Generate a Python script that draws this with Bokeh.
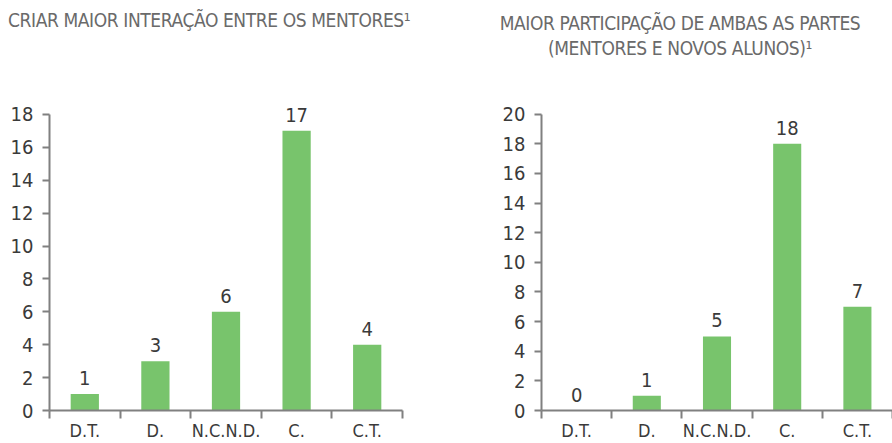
from bokeh.plotting import figure
from bokeh.models import Range1d, FixedTicker, ColumnDataSource, Div
from bokeh.layouts import row, column
from bokeh.embed import file_html
from bokeh.resources import INLINE
from bokeh.core.properties import value

categories = ["D.T.", "D.", "N.C.N.D.", "C.", "C.T."]
values_left = [1, 3, 6, 17, 4]
values_right = [0, 1, 5, 18, 7]
yticks_left = [0, 2, 4, 6, 8, 10, 12, 14, 16, 18]
yticks_right = [0, 2, 4, 6, 8, 10, 12, 14, 16, 18, 20]
title_left = "CRIAR MAIOR INTERAÇÃO ENTRE OS MENTORES¹"
title_right = ["MAIOR PARTICIPAÇÃO DE AMBAS AS PARTES", "(MENTORES E NOVOS ALUNOS)¹"]

FONT = "'DejaVu Sans Condensed', 'Roboto', sans-serif"
GREEN = "#78c46c"
AXIS = "#808080"
TXT = "#3a3a3a"
TITLE_C = "#6a6a6a"
TOPH = 64
BOT = 28
TOPB = 17


def make(vals, yticks, yend, width, bl, br):
    n = len(categories)
    p = figure(width=width, height=443 - TOPH, output_backend="svg", toolbar_location=None,
               x_range=Range1d(0, n), y_range=Range1d(0, yend),
               min_border_left=bl, min_border_right=br, min_border_top=TOPB, min_border_bottom=BOT)
    p.outline_line_color = None
    p.grid.visible = False
    p.background_fill_color = None
    p.border_fill_color = None

    xs = [i + 0.5 for i in range(n)]
    src = ColumnDataSource(dict(x=xs, top=vals, lab=[str(v) for v in vals]))
    p.vbar(x="x", top="top", width=0.4, bottom=0, source=src, fill_color=GREEN, line_color=None)
    p.text(x="x", y="top", text="lab", source=src, text_align="center", text_baseline="bottom",
           y_offset=-9, text_font=value(FONT), text_font_size="20px", text_color=TXT)

    xa = p.xaxis[0]
    xa.ticker = FixedTicker(ticks=xs, minor_ticks=list(range(n + 1)))
    xa.major_label_overrides = {x: c for x, c in zip(xs, categories)}
    xa.major_tick_in = 0
    xa.major_tick_out = 0
    xa.minor_tick_in = 0
    xa.minor_tick_out = 8
    xa.minor_tick_line_width = 2
    xa.minor_tick_line_color = AXIS
    xa.axis_line_width = 2
    xa.axis_line_color = AXIS
    xa.major_label_standoff = 1
    xa.major_label_text_font = FONT
    xa.major_label_text_font_size = "18px"
    xa.major_label_text_color = TXT

    ya = p.yaxis[0]
    ya.ticker = FixedTicker(ticks=yticks)
    ya.bounds = (yticks[0], yticks[-1])
    ya.major_tick_in = 0
    ya.major_tick_out = 7
    ya.major_tick_line_width = 2
    ya.major_tick_line_color = AXIS
    ya.minor_tick_line_color = None
    ya.axis_line_width = 2
    ya.axis_line_color = AXIS
    ya.major_label_standoff = 9
    ya.major_label_text_font = FONT
    ya.major_label_text_font_size = "20px"
    ya.major_label_text_color = TXT
    ya.major_label_text_baseline = "alphabetic"
    return p


style = ("font-family: 'DejaVu Sans Condensed', 'Roboto', sans-serif; font-size: 19px; "
         "letter-spacing: -0.4px; color: %s; line-height: 25px; white-space: nowrap;" % TITLE_C)
d1 = Div(text='<div style="%s padding-left: 8px; padding-top: 8px;">%s</div>' % (style, title_left),
         width=446, height=TOPH, margin=0)
d2 = Div(text='<div style="%s text-align: center; width: 468px; padding-top: 11px;">%s</div>'
         % (style, "<br>".join(title_right)),
         width=446, height=TOPH, margin=0)

p1 = make(values_left, yticks_left, 20.0, 446, 49, 44)
p2 = make(values_right, yticks_right, 22.2, 446, 95, 0)

layout = column(row(d1, d2, spacing=0), row(p1, p2, spacing=0), spacing=0)
open("out.html", "w").write(file_html(layout, INLINE))
